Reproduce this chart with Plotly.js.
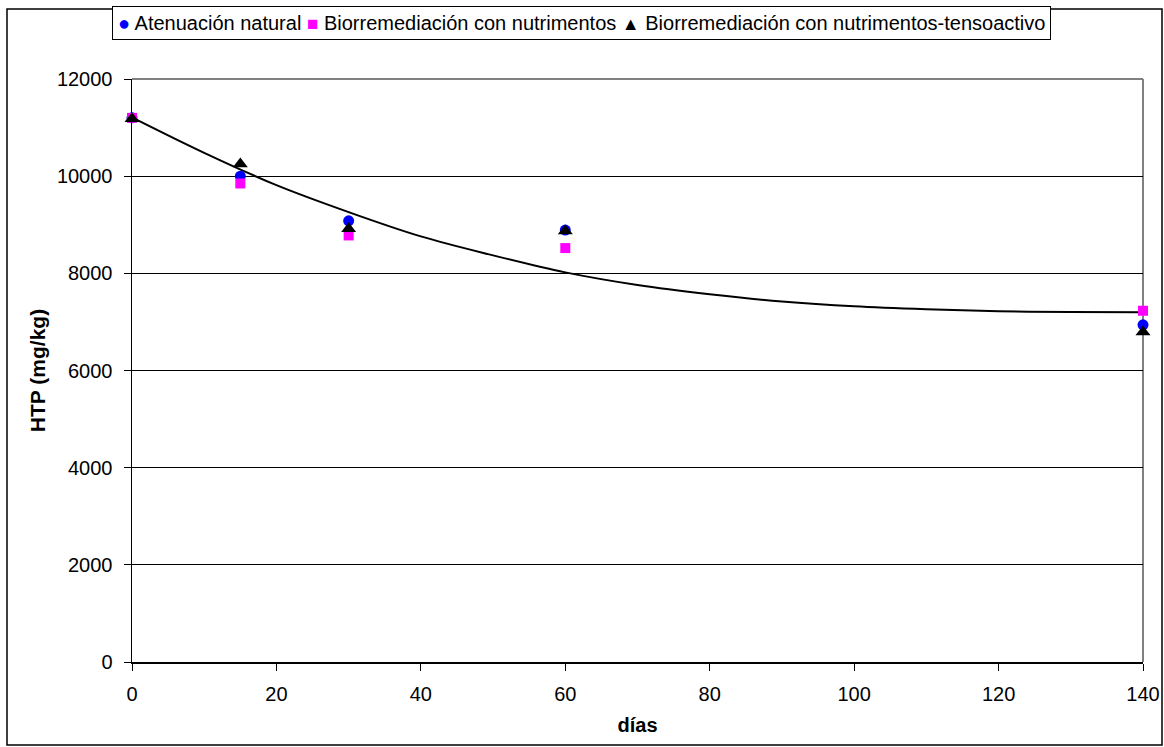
<!DOCTYPE html>
<html>
<head>
<meta charset="utf-8">
<script src="https://cdn.plot.ly/plotly-3.0.1.min.js"></script>
<style>
html,body{margin:0;padding:0;background:#fff;}
#chart{width:1164px;height:747px;}
</style>
</head>
<body>
<div id="chart"></div>
<script>
// Days
const dias = [0, 15, 30, 60, 140];
// HTP (mg/kg) per treatment
const atenuacionNatural = [11200, 10000, 9080, 8890, 6940];
const bioNutrimentos = [11200, 9850, 8780, 8520, 7230];
const bioNutrimentosTenso = [11180, 10250, 8920, 8870, 6790];
// Trend curve
const trendX = [0, 10, 20, 30, 40, 50, 60, 70, 80, 90, 100, 110, 120, 130, 140];
const trendY = [11210, 10480, 9815, 9260, 8760, 8370, 8020, 7760, 7570, 7420, 7320, 7260, 7220, 7205, 7200];

const seriesNames = ["Atenuación natural", "Biorremediación con nutrimentos", "Biorremediación con nutrimentos-tensoactivo"];
const seriesColors = ["#0000FF", "#FF00FF", "#000000"];
const legendGlyphs = ["●", "■", "▲"];
const yTicks = [0, 2000, 4000, 6000, 8000, 10000, 12000];
const xTicks = [0, 20, 40, 60, 80, 100, 120, 140];

const font = "Liberation Sans, Arial, sans-serif";

const traces = [
  {x: trendX, y: trendY, mode: "lines", line: {color: "#000", width: 2, shape: "spline"}, showlegend: false, hoverinfo: "skip", cliponaxis: false},
  {x: dias, y: atenuacionNatural, mode: "markers", name: seriesNames[0], cliponaxis: false,
   marker: {symbol: "circle", color: seriesColors[0], size: 11}},
  {x: dias, y: bioNutrimentos, mode: "markers", name: seriesNames[1], cliponaxis: false,
   marker: {symbol: "square", color: seriesColors[1], size: 10}},
  {x: dias, y: bioNutrimentosTenso, mode: "markers", name: seriesNames[2], cliponaxis: false,
   marker: {symbol: "triangle-up", color: seriesColors[2], size: 13}}
];

const L = 132, R = 21, T = 79, B = 85, W = 1164, H = 747;
const pw = W - L - R, ph = H - T - B;
const px = v => (v - L) / pw;
const py = v => (H - B - v) / ph;

const legendSizes = [20, 19, 18];
const legendText = seriesNames.map((n, i) =>
  `<span style="color:${seriesColors[i]};font-size:${legendSizes[i]}px">${legendGlyphs[i]}</span> ${n}`
).join(" ");

const layout = {
  width: W, height: H,
  margin: {l: L, r: R, t: T, b: B},
  paper_bgcolor: "#fff", plot_bgcolor: "#fff",
  font: {family: font, color: "#000", size: 19},
  showlegend: false,
  xaxis: {
    range: [0, 140], tickvals: xTicks, ticktext: xTicks.map(String),
    showgrid: false, zeroline: false,
    showline: true, linecolor: "#000", linewidth: 1.5,
    ticks: "outside", ticklen: 7, tickcolor: "#000", tickwidth: 1,
    ticklabelstandoff: 6,
    tickfont: {family: font, size: 20},
    title: {text: "<b>días</b>", font: {family: font, size: 20}, standoff: 14}
  },
  yaxis: {
    range: [0, 12000], tickvals: yTicks, ticktext: yTicks.map(String),
    showgrid: true, gridcolor: "#000", gridwidth: 1, zeroline: false,
    showline: true, linecolor: "#000", linewidth: 1.5,
    ticks: "outside", ticklen: 7, tickcolor: "#000", tickwidth: 1,
    ticklabelstandoff: 7,
    tickfont: {family: font, size: 20},
    title: {text: "<b>HTP (mg/kg)</b>", font: {family: font, size: 21}, standoff: 5}
  },
  annotations: [
    {xref: "paper", yref: "paper", x: px(581.5), y: py(23.5), xanchor: "center", yanchor: "middle",
     text: legendText, showarrow: false, font: {family: font, size: 20, color: "#000"},
     bordercolor: "#000", borderwidth: 1, borderpad: 5, bgcolor: "#fff"}
  ],
  shapes: [
    {type: "line", xref: "paper", yref: "paper", x0: 0, x1: 1, y0: 1, y1: 1, line: {color: "#808080", width: 2}, layer: "below"},
    {type: "line", xref: "paper", yref: "paper", x0: 1, x1: 1, y0: 0, y1: 1, line: {color: "#808080", width: 2}, layer: "below"},
    {type: "rect", xref: "paper", yref: "paper", x0: px(7), x1: px(1162), y0: py(745), y1: py(9), line: {color: "#000", width: 1.5}, fillcolor: "rgba(0,0,0,0)", layer: "below"}
  ]
};

Plotly.newPlot("chart", traces, layout, {displayModeBar: false, staticPlot: true});
</script>
</body>
</html>
